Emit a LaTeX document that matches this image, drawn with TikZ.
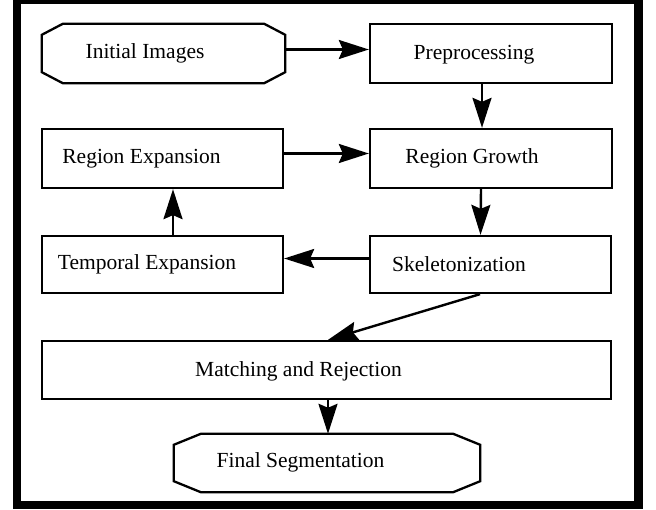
\documentclass[tikz,border=0pt]{standalone}
\usepackage{fontspec}
\setmainfont{Liberation Serif}
\usetikzlibrary{arrows.meta,calc}
\begin{document}
\begin{tikzpicture}[x=1pt,y=-1pt,
  box/.style={draw, line width=2.3pt, inner sep=0pt},
  octbox/.style={inner sep=0pt},
  octline/.style={line width=2.3pt, line join=miter},
  lbl/.style={font=\fontsize{21.5}{25}\selectfont, inner sep=0pt},
  arr/.style={line width=2.4pt, -{Stealth[length=30pt,width=19pt,inset=4pt]}}]
\useasboundingbox (0,0) rectangle (656,510);
\draw[line width=8.5pt] (17,0) rectangle (638.5,505);

% boxes
\node[octbox, minimum width=243pt, minimum height=59pt] (init) at (163.5,53.5) {};
\node[box, minimum width=242pt, minimum height=59pt] (pre) at (491,53.5) {};
\node[box, minimum width=241pt, minimum height=59pt] (rexp) at (162.5,158.5) {};
\node[box, minimum width=242pt, minimum height=59pt] (rgrow) at (491,158.5) {};
\node[box, minimum width=241pt, minimum height=57pt] (texp) at (162.5,264.5) {};
\node[box, minimum width=241pt, minimum height=57pt] (skel) at (490.5,264.5) {};
\node[box, minimum width=569pt, minimum height=58pt] (match) at (326.5,370) {};
\node[octbox, minimum width=306pt, minimum height=58pt] (final) at (327,463) {};

\draw[octline] ([xshift=21pt]init.north west) -- ([xshift=-21pt]init.north east)
  -- ([yshift=-11pt]init.north east) -- ([yshift=11pt]init.south east)
  -- ([xshift=-21pt]init.south east) -- ([xshift=21pt]init.south west)
  -- ([yshift=11pt]init.south west) -- ([yshift=-11pt]init.north west) -- cycle;
\draw[octline] ([xshift=27pt]final.north west) -- ([xshift=-27pt]final.north east)
  -- ([yshift=-11pt]final.north east) -- ([yshift=11pt]final.south east)
  -- ([xshift=-27pt]final.south east) -- ([xshift=27pt]final.south west)
  -- ([yshift=11pt]final.south west) -- ([yshift=-11pt]final.north west) -- cycle;

% labels
\node[lbl] (tinit) at (145,53) {Initial Images};
\node[lbl] (tpre) at (474,55) {Preprocessing};
\node[lbl] (trexp) at (141.5,159) {Region Expansion};
\node[lbl] (trgrow) at (472,158) {Region Growth};
\node[lbl] (ttexp) at (147,264) {Temporal Expansion};
\node[lbl] (tskel) at (459,264) {Skeletonization};
\node[lbl] (tmatch) at (298.5,371) {Matching and Rejection};
\node[lbl] (tfinal) at (300.5,462) {Final Segmentation};

% connectors
\draw[arr] ([yshift=4pt]init.east) -- ([yshift=4pt]pre.west);
\draw[arr] ([xshift=-9pt]pre.south) -- ([xshift=-9pt]rgrow.north);
\draw[arr] ([yshift=5pt]rexp.east) -- ([yshift=5pt]rgrow.west);
\draw[arr] ([xshift=-10pt]rgrow.south) -- ([xshift=-10pt]skel.north);
\draw[arr] ([yshift=6pt]skel.west) -- ([yshift=6pt]texp.east);
\draw[arr] ([xshift=10.5pt]texp.north) -- ([xshift=10.5pt]rexp.south);
\draw[arr] ([xshift=-10.5pt]skel.south) -- ([xshift=1.5pt]match.north);
\draw[arr] ([xshift=1.5pt]match.south) -- ([xshift=1pt]final.north);
\end{tikzpicture}
\end{document}
